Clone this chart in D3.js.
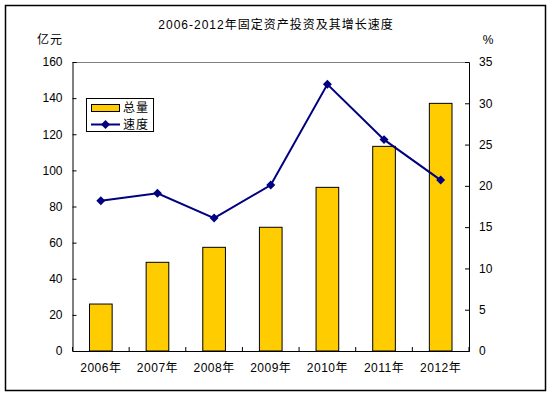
<!DOCTYPE html>
<html><head><meta charset="utf-8">
<script src="https://cdn.jsdelivr.net/npm/d3@7"></script>
<style>body{margin:0;background:#fff;}svg{display:block;font-family:"Liberation Sans","Noto Sans CJK SC",sans-serif;}</style>
</head><body>
<svg id="c" width="552" height="396"></svg>
<script>
const categories = ["2006年","2007年","2008年","2009年","2010年","2011年","2012年"];
const totals = [26, 49.1, 57.4, 68.5, 90.6, 113.3, 137.1];
const speeds = [18.2, 19.1, 16.1, 20.1, 32.3, 25.6, 20.7];
const leftTicks = [0,20,40,60,80,100,120,140,160];
const rightTicks = [0,5,10,15,20,25,30,35];

const svg = d3.select("#c");
const L = 72.5, R = 469, T = 62, B = 351;
svg.append("rect").attr("x",5.5).attr("y",5.5).attr("width",540).attr("height",385)
  .attr("fill","#fff").attr("stroke","#000").attr("stroke-width",1.5);

const x = d3.scaleBand().domain(categories).range([L,R]).paddingInner(0.6).paddingOuter(0.3);
const yL = d3.scaleLinear().domain([0,160]).range([B,T]);
const yR = d3.scaleLinear().domain([0,35]).range([B,T]);

// top border
svg.append("line").attr("x1",L).attr("x2",R).attr("y1",T+0.5).attr("y2",T+0.5).attr("stroke","#808080");

// bars
svg.selectAll("rect.bar").data(totals).enter().append("rect").attr("class","bar")
  .attr("x",(d,i)=>x(categories[i])).attr("width",x.bandwidth())
  .attr("y",d=>yL(d)).attr("height",d=>B-yL(d))
  .attr("fill","#FFCC00").attr("stroke","#000").attr("stroke-width",1);

// axes
const fs = "12px";
const la = svg.append("g").attr("transform",`translate(${L},0)`)
  .call(d3.axisLeft(yL).tickValues(leftTicks).tickSize(-4).tickPadding(10));
const ra = svg.append("g").attr("transform",`translate(${R},0)`)
  .call(d3.axisRight(yR).tickValues(rightTicks).tickSize(-4).tickPadding(10));
const xa = svg.append("g").attr("transform",`translate(0,${B})`)
  .call(d3.axisBottom(x).tickSize(0).tickPadding(12));
xa.selectAll("line.sep").data(d3.range(categories.length+1)).enter().append("line").attr("class","sep")
  .attr("x1",i=>L+i*(R-L)/categories.length).attr("x2",i=>L+i*(R-L)/categories.length)
  .attr("y1",0).attr("y2",-4).attr("stroke","#000");
[la,ra,xa].forEach(g=>{
  g.select(".domain").attr("stroke","#000");
  g.selectAll("text").attr("font-size",fs).attr("fill","#000").attr("font-family",'"Liberation Sans","Noto Sans CJK SC",sans-serif');
});
ra.selectAll(".tick text").attr("x",10);
xa.selectAll(".tick text").attr("letter-spacing","0.5px");

// line
const line = d3.line().x((d,i)=>x(categories[i])+x.bandwidth()/2).y(d=>yR(d));
svg.append("path").datum(speeds).attr("d",line).attr("fill","none").attr("stroke","#000080").attr("stroke-width",2);
svg.selectAll("path.pt").data(speeds).enter().append("path").attr("class","pt")
  .attr("d",d3.symbol().type(d3.symbolSquare).size(40))
  .attr("transform",(d,i)=>`translate(${x(categories[i])+x.bandwidth()/2},${yR(d)}) rotate(45)`)
  .attr("fill","#000080");

// titles
svg.append("text").attr("x",276).attr("y",29).attr("text-anchor","middle").attr("font-size","12px").attr("letter-spacing","1px").text("2006-2012年固定资产投资及其增长速度");
svg.append("text").attr("x",50).attr("y",44).attr("text-anchor","middle").attr("font-size","12px").attr("letter-spacing","1px").text("亿元");
svg.append("text").attr("x",488).attr("y",44).attr("text-anchor","middle").attr("font-size","12px").text("%");

// legend
const lg = svg.append("g");
lg.append("rect").attr("x",86.5).attr("y",98.5).attr("width",67).attr("height",33).attr("fill","#fff").attr("stroke","#000");
lg.append("rect").attr("x",91.5).attr("y",104.5).attr("width",28).attr("height",7).attr("fill","#FFCC00").attr("stroke","#000");
lg.append("line").attr("x1",91).attr("x2",120).attr("y1",124.5).attr("y2",124.5).attr("stroke","#000080").attr("stroke-width",2);
lg.append("path").attr("d",d3.symbol().type(d3.symbolSquare).size(40)).attr("transform","translate(105.5,124.5) rotate(45)").attr("fill","#000080");
lg.append("text").attr("x",123).attr("y",112).attr("font-size","12px").attr("letter-spacing","1px").text("总量");
lg.append("text").attr("x",123).attr("y",129).attr("font-size","12px").attr("letter-spacing","1px").text("速度");
</script>
</body></html>
